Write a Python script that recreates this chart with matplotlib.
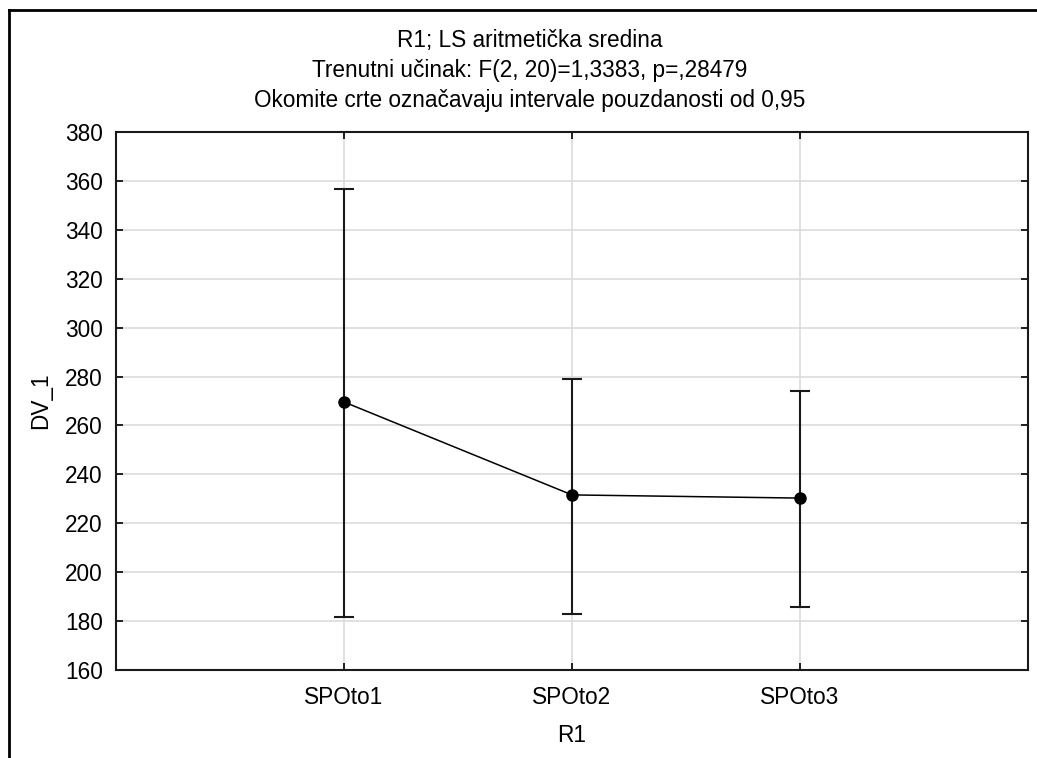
import matplotlib.pyplot as plt
from matplotlib.lines import Line2D
import numpy as np

# data
groups = ['SPOto1', 'SPOto2', 'SPOto3']
means = [269.6, 231.6, 230.3]
ci_low = [181.5, 183.1, 185.8]
ci_high = [356.6, 279.2, 273.9]
y_ticks = [160, 180, 200, 220, 240, 260, 280, 300, 320, 340, 360, 380]

title_lines = ['R1; LS aritmetička sredina',
               'Trenutni učinak: F(2, 20)=1,3383, p=,28479',
               'Okomite crte označavaju intervale pouzdanosti od 0,95']

plt.rcParams['font.family'] = ['Liberation Sans', 'DejaVu Sans']
fs = 16.3

fig = plt.figure(figsize=(10.37, 7.58), dpi=100)
ax = fig.add_axes([116/1037, 1 - 670/758, (1028 - 116)/1037, (670 - 132)/758])

x = np.arange(1, len(groups) + 1)
m = np.array(means)
err = [m - np.array(ci_low), np.array(ci_high) - m]

ax.errorbar(x, m, yerr=err, fmt='none', ecolor='#1a1a1a', elinewidth=1.5,
            capsize=7.5, capthick=1.5, zorder=3)
ax.plot(x, m, color='black', lw=1.1, marker='o', markersize=8, zorder=4)

ax.set_xlim(0, 4)
ax.set_ylim(160, 380)
ax.set_xticks(x)
ax.set_xticklabels(groups)
ax.set_yticks(y_ticks)
ax.grid(True, color='#dcdcdc', lw=1.2)
ax.set_axisbelow(True)
ax.tick_params(direction='in', length=5, width=1.2, top=True, right=True,
               labelsize=fs, colors='black')
ax.tick_params(axis='x', pad=11.5)
ax.tick_params(axis='y', pad=9.5)
for s in ax.spines.values():
    s.set_linewidth(1.5)
    s.set_color('#1a1a1a')

ax.set_xlabel('R1', fontsize=fs, labelpad=11)
ax.set_ylabel('DV_1', fontsize=fs, labelpad=9.5)

# three title lines, centred on the figure rather than the axes
cx = 530 / 1037
for i, t in enumerate(title_lines):
    fig.text(cx, 1 - (47.5 + 29.5 * i) / 758, t, ha='center', va='baseline', fontsize=fs)

# partial outer frame (top and left only visible)
fig.add_artist(Line2D([8.5/1037, 8.5/1037], [0, 1 - 9.5/758], transform=fig.transFigure,
                      color='black', lw=2))
fig.add_artist(Line2D([8.5/1037, 1], [1 - 9.5/758, 1 - 9.5/758], transform=fig.transFigure,
                      color='black', lw=2))

fig.savefig('out.png', dpi=100)
